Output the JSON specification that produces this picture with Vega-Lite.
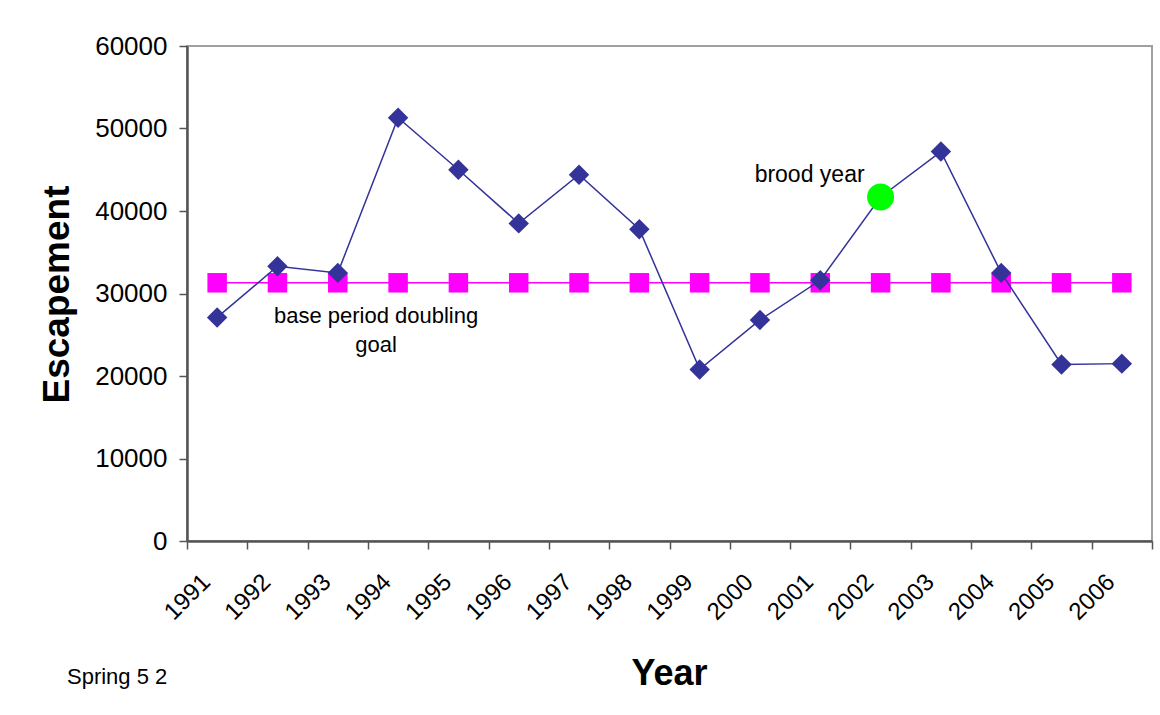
{
  "$schema": "https://vega.github.io/schema/vega-lite/v6.json",
  "autosize": {"type": "none"},
  "padding": {"left": 187, "top": 46, "right": 8, "bottom": 174},
  "width": 965,
  "height": 495,
  "background": "white",
  "config": {
    "font": "Liberation Sans",
    "view": {"stroke": "#a0a0a0", "strokeWidth": 2},
    "axis": {"grid": false, "labelColor": "black", "titleColor": "black", "labelFont": "Liberation Sans", "titleFont": "Liberation Sans"}
  },
  "title": {
    "text": "Spring 5 2",
    "orient": "bottom",
    "anchor": "start",
    "frame": "group",
    "dx": -120,
    "offset": -7,
    "baseline": "alphabetic",
    "font": "Liberation Sans",
    "fontSize": 22,
    "fontWeight": "normal",
    "color": "black"
  },
  "datasets": {
    "escapement": [
      {"year": "1991", "escapement": 27100, "goal": 31300},
      {"year": "1992", "escapement": 33300, "goal": 31300},
      {"year": "1993", "escapement": 32500, "goal": 31300},
      {"year": "1994", "escapement": 51300, "goal": 31300},
      {"year": "1995", "escapement": 45000, "goal": 31300},
      {"year": "1996", "escapement": 38500, "goal": 31300},
      {"year": "1997", "escapement": 44400, "goal": 31300},
      {"year": "1998", "escapement": 37800, "goal": 31300},
      {"year": "1999", "escapement": 20800, "goal": 31300},
      {"year": "2000", "escapement": 26800, "goal": 31300},
      {"year": "2001", "escapement": 31600, "goal": 31300},
      {"year": "2002", "escapement": 41700, "goal": 31300},
      {"year": "2003", "escapement": 47200, "goal": 31300},
      {"year": "2004", "escapement": 32500, "goal": 31300},
      {"year": "2005", "escapement": 21400, "goal": 31300},
      {"year": "2006", "escapement": 21500, "goal": 31300}
    ],
    "notes": [
      {"year": "2002", "value": 44400, "label": "brood year"},
      {"year": "1994", "value": 26400, "label": "base period doubling\ngoal"}
    ]
  },
  "data": {"name": "escapement"},
  "encoding": {
    "x": {
      "field": "year",
      "type": "ordinal",
      "scale": {"paddingInner": 0, "paddingOuter": 0},
      "axis": {
        "title": "Year",
        "titleFontSize": 36,
        "titleFontWeight": "bold",
        "titleX": 482,
        "titleY": 143,
        "titleBaseline": "alphabetic",
        "titleAlign": "center",
        "labelFontSize": 24,
        "labelAngle": -45,
        "labelAlign": "right",
        "labelBaseline": "middle",
        "labelPadding": 29,
        "labelOffset": -11,
        "tickBand": "extent",
        "tickSize": 8,
        "tickColor": "#555555",
        "tickWidth": 1.5,
        "domainColor": "#555555",
        "domainWidth": 2.5
      }
    }
  },
  "layer": [
    {
      "mark": {"type": "line", "color": "#ff00ff", "strokeWidth": 1.5},
      "encoding": {
        "y": {
          "field": "goal",
          "type": "quantitative",
          "scale": {"domain": [0, 60000], "nice": false},
          "axis": {
            "title": "Escapement",
            "titleFontSize": 37,
            "titleFontWeight": "bold",
            "titleAngle": -90,
            "titleX": -119,
            "titleY": 248,
            "titleAlign": "center",
            "titleBaseline": "alphabetic",
            "values": [0, 10000, 20000, 30000, 40000, 50000, 60000],
            "format": "d",
            "labelFontSize": 26,
            "labelPadding": 12,
            "tickSize": 8,
            "tickColor": "#555555",
            "tickWidth": 1.5,
            "domainColor": "#555555",
            "domainWidth": 2.5
          }
        }
      }
    },
    {
      "mark": {"type": "point", "shape": "square", "filled": true, "color": "#ff00ff", "size": 380, "opacity": 1},
      "encoding": {"y": {"field": "goal", "type": "quantitative"}}
    },
    {
      "mark": {"type": "line", "color": "#333399", "strokeWidth": 1.5},
      "encoding": {"y": {"field": "escapement", "type": "quantitative"}}
    },
    {
      "mark": {"type": "point", "shape": "diamond", "filled": true, "color": "#333399", "size": 420, "opacity": 1},
      "encoding": {"y": {"field": "escapement", "type": "quantitative"}}
    },
    {
      "transform": [{"filter": "datum.year == '2002'"}],
      "mark": {"type": "point", "shape": "circle", "filled": true, "color": "#00ff00", "size": 730, "opacity": 1},
      "encoding": {"y": {"field": "escapement", "type": "quantitative"}}
    },
    {
      "data": {"name": "notes"},
      "transform": [{"filter": "datum.year == '2002'"}],
      "mark": {"type": "text", "align": "right", "baseline": "middle", "dx": -16, "fontSize": 23, "color": "black", "font": "Liberation Sans"},
      "encoding": {
        "y": {"field": "value", "type": "quantitative"},
        "text": {"field": "label"}
      }
    },
    {
      "data": {"name": "notes"},
      "transform": [{"filter": "datum.year == '1994'"}],
      "mark": {"type": "text", "align": "center", "baseline": "alphabetic", "dx": -22, "fontSize": 22, "lineHeight": 29, "lineBreak": "\n", "color": "black", "font": "Liberation Sans"},
      "encoding": {
        "y": {"field": "value", "type": "quantitative"},
        "text": {"field": "label"}
      }
    }
  ]
}
